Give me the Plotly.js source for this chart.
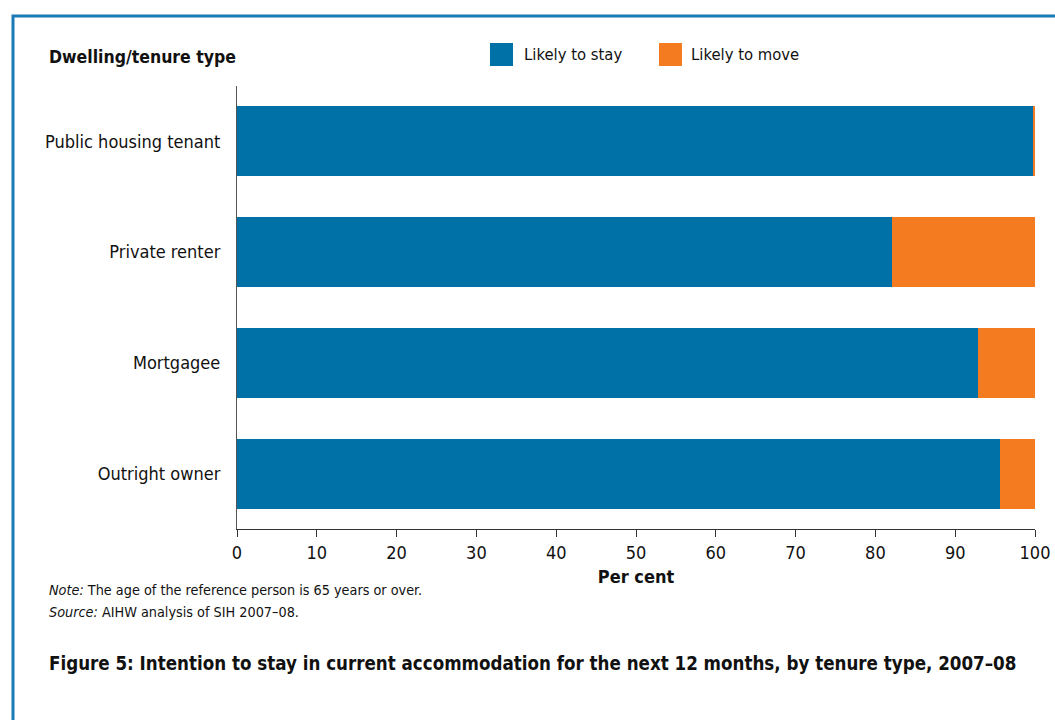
<!DOCTYPE html>
<html>
<head>
<meta charset="utf-8">
<script src="https://cdn.plot.ly/plotly-3.0.1.min.js"></script>
<style>html,body{margin:0;padding:0;background:#fff;}#chart{width:1055px;height:720px;}</style>
</head>
<body>
<div id="chart"></div>
<script>
const categories = ["Public housing tenant", "Private renter", "Mortgagee", "Outright owner"];
const likelyToStay = [99.7, 82.1, 92.9, 95.6];
const likelyToMove = [0.3, 17.9, 7.1, 4.4];
const seriesNames = ["Likely to stay", "Likely to move"];
const xTicks = [0, 10, 20, 30, 40, 50, 60, 70, 80, 90, 100];

const FONT = "'Liberation Sans Narrow', 'DejaVu Sans Condensed', 'Arial Narrow', sans-serif";
const BLUE = "#0071a7";
const ORANGE = "#f47b20";

const traces = [
  {type: "bar", orientation: "h", name: seriesNames[0], y: categories, x: likelyToStay,
   marker: {color: BLUE, line: {width: 0}}, hoverinfo: "x+name", showlegend: false},
  {type: "bar", orientation: "h", name: seriesNames[1], y: categories, x: likelyToMove,
   marker: {color: ORANGE, line: {width: 0}}, hoverinfo: "x+name", showlegend: false}
];

// legend drawn as swatches + labels (paper coordinates)
const legendItems = [
  {name: seriesNames[0], color: BLUE, x0: 0.3170, x1: 0.3459, tx: 0.3571},
  {name: seriesNames[1], color: ORANGE, x0: 0.5288, x1: 0.5576, tx: 0.5664}
];

const shapes = [
  {type: "rect", xref: "paper", yref: "paper", x0: -0.2807, x1: 1.03, y0: -0.44, y1: 1.158,
   line: {color: "#1a7ab5", width: 3}, fillcolor: "rgba(0,0,0,0)", layer: "below"}
];
legendItems.forEach(it => shapes.push({type: "rect", xref: "paper", yref: "paper",
  x0: it.x0, x1: it.x1, y0: 1.0451, y1: 1.0971, line: {width: 0}, fillcolor: it.color}));

const annotations = [
  {xref: "paper", yref: "paper", x: -0.2381, y: 1.0655, xanchor: "left", yanchor: "middle",
   text: "<b>Dwelling/tenure type</b>", showarrow: false, font: {family: FONT, size: 17.5, color: "#111"}},
  {xref: "paper", yref: "paper", x: -0.2381, y: -0.1377, xanchor: "left", yanchor: "middle",
   text: "<i>Note:</i> The age of the reference person is 65 years or over.", showarrow: false,
   font: {family: FONT, size: 14.3, color: "#111"}},
  {xref: "paper", yref: "paper", x: -0.2381, y: -0.187, xanchor: "left", yanchor: "middle",
   text: "<i>Source:</i> AIHW analysis of SIH 2007–08.", showarrow: false,
   font: {family: FONT, size: 14.3, color: "#111"}},
  {xref: "paper", yref: "paper", x: -0.2381, y: -0.3025, xanchor: "left", yanchor: "middle",
   text: "<b>Figure 5: Intention to stay in current accommodation for the next 12 months, by tenure type, 2007–08</b>",
   showarrow: false, font: {family: FONT, size: 18.6, color: "#111"}}
];
legendItems.forEach(it => annotations.push({xref: "paper", yref: "paper", x: it.tx, y: 1.07,
  xanchor: "left", yanchor: "middle", text: it.name, showarrow: false,
  font: {family: FONT, size: 16.5, color: "#111"}}));

const layout = {
  width: 1055, height: 720,
  margin: {l: 237, r: 20, t: 86, b: 191},
  paper_bgcolor: "#fff", plot_bgcolor: "#fff",
  font: {family: FONT, size: 18, color: "#111"},
  barmode: "stack",
  bargap: 0.37,
  showlegend: false,
  xaxis: {range: [0, 100], tickvals: xTicks, ticktext: xTicks.map(String),
          ticks: "outside", ticklen: 7, tickcolor: "#333", tickwidth: 1,
          showline: true, linecolor: "#333", linewidth: 1.2, showgrid: false, zeroline: false,
          tickfont: {family: FONT, size: 18, color: "#111"},
          title: {text: "<b>Per cent</b>", font: {family: FONT, size: 18, color: "#111"}, standoff: 8},
          fixedrange: true},
  yaxis: {type: "category", autorange: "reversed", categoryorder: "array", categoryarray: categories,
          showline: true, linecolor: "#555", linewidth: 1.2, ticks: "", showgrid: false, zeroline: false,
          ticklabelstandoff: 12,
          tickfont: {family: FONT, size: 18, color: "#111"}, fixedrange: true},
  shapes: shapes,
  annotations: annotations
};

Plotly.newPlot("chart", traces, layout, {displayModeBar: false, responsive: false});
</script>
</body>
</html>
